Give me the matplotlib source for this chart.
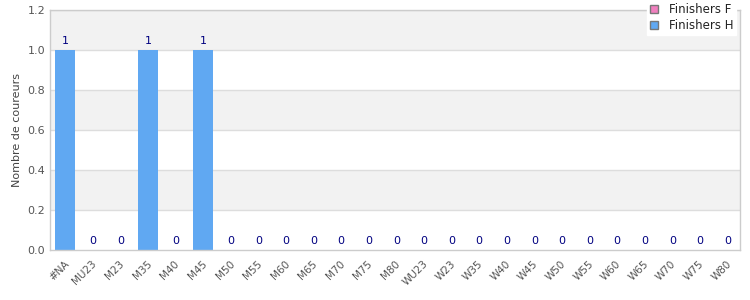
import matplotlib
matplotlib.use('Agg')

import numpy as np
import matplotlib.pyplot as plt
from matplotlib.patches import Patch

# Data
categories = ['#NA', 'MU23', 'M23', 'M35', 'M40', 'M45', 'M50', 'M55', 'M60', 'M65',
              'M70', 'M75', 'M80', 'WU23', 'W23', 'W35', 'W40', 'W45', 'W50', 'W55',
              'W60', 'W65', 'W70', 'W75', 'W80']
finishers_h = [1, 0, 0, 1, 0, 1, 0, 0, 0, 0, 0, 0, 0, 0, 0, 0, 0, 0, 0, 0, 0, 0, 0, 0, 0]
series_names = ['Finishers F', 'Finishers H']
series_colors = ['#f07fbf', '#60a8f2']

fig = plt.figure(figsize=(7.5, 3), dpi=100)
ax = fig.add_axes([50 / 750, 50 / 300, 690 / 750, 240 / 300])

x = np.arange(len(categories))

# alternating bands
for i, y0 in enumerate(np.arange(0, 1.2, 0.2)):
    if i % 2 == 1:
        ax.axhspan(y0, y0 + 0.2, color='#f2f2f2', zorder=0, lw=0)
for y in np.arange(0.2, 1.21, 0.2):
    ax.axhline(y, color='#dddddd', lw=1, zorder=1)

bars = ax.bar(x + 0.05, finishers_h, width=0.72, color=series_colors[1], zorder=2)
for xi, v in zip(x, finishers_h):
    ax.text(xi + 0.05, v + 0.022, str(v), ha='center', va='bottom',
            fontsize=8, color='#000080', zorder=3)

ax.set_xlim(-0.5, len(categories) - 0.5)
ax.set_ylim(0, 1.2)
ax.set_yticks(np.arange(0, 1.21, 0.2))
ax.set_yticklabels([f'{v:.1f}' for v in np.arange(0, 1.21, 0.2)])
ax.set_xticks(x)
ax.set_xticklabels(categories, rotation=45, ha='right', rotation_mode='anchor')
ax.tick_params(axis='both', length=0, labelsize=7.5, colors='#555555')
ax.tick_params(axis='y', labelsize=8)
ax.tick_params(axis='x', pad=6)
ax.set_ylabel('Nombre de coureurs', fontsize=8, color='#444444')

for s in ax.spines.values():
    s.set_color('#cccccc')
    s.set_linewidth(1)

handles = [Patch(facecolor=c, edgecolor='#777777', label=n)
           for n, c in zip(series_names, series_colors)]
leg = fig.legend(handles=handles, loc='upper right', bbox_to_anchor=(736 / 750, 1.0),
                 fontsize=8.5, frameon=True, fancybox=False, handlelength=0.7,
                 handleheight=0.7, handletextpad=0.9, borderpad=0.25, labelspacing=0.3,
                 borderaxespad=0)
leg.get_frame().set_edgecolor('white')
leg.get_frame().set_alpha(1)
for t in leg.get_texts():
    t.set_color('#222222')

fig.savefig('out.png', dpi=100)
